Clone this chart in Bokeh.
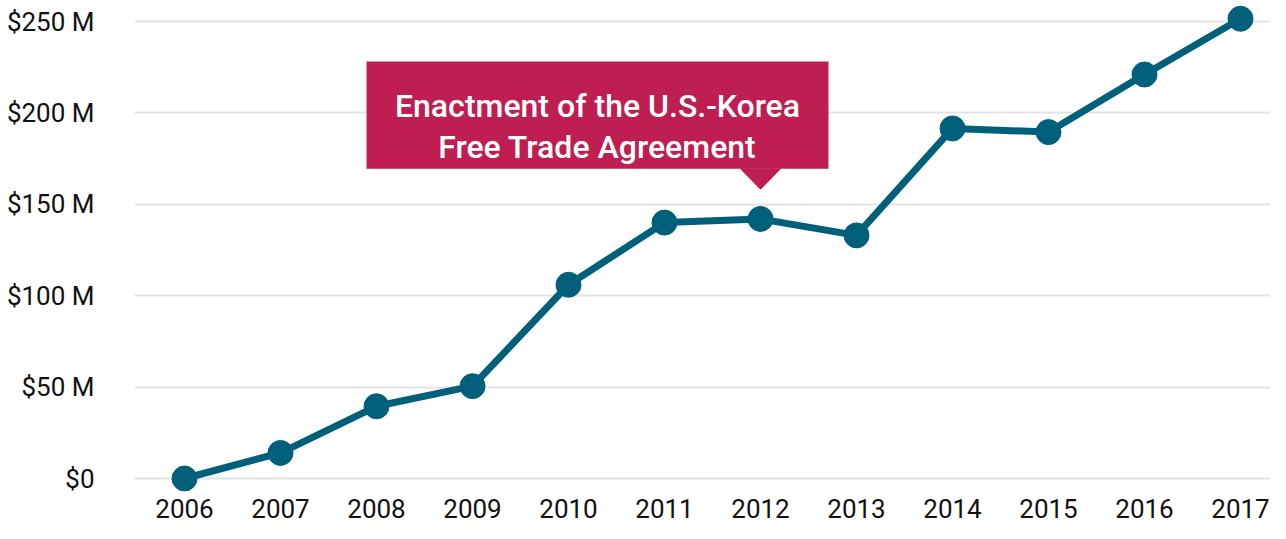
from bokeh.plotting import figure
from bokeh.models import FixedTicker, Range1d, BoxAnnotation, PolyAnnotation, Label
from bokeh.embed import file_html
from bokeh.resources import INLINE

# ---- data ----
years = [2006, 2007, 2008, 2009, 2010, 2011, 2012, 2013, 2014, 2015, 2016, 2017]
values_m = [0, 14, 39.5, 50.5, 106, 140, 142, 133, 191.5, 189.5, 221, 251.5]
y_ticks = [0, 50, 100, 150, 200, 250]
y_tick_labels = ["$0", "$50 M", "$100 M", "$150 M", "$200 M", "$250 M"]
event_year = 2012
event_lines = ["Enactment of the U.S.-Korea", "Free Trade Agreement"]

LINE = "#00607B"
BOX = "#BE1E52"

p = figure(width=1270, height=523, output_backend="svg", toolbar_location=None,
           x_range=Range1d(2005.479, 2017.3125), y_range=Range1d(-7.11, 261.49),
           min_border_left=134, min_border_right=0, min_border_top=0, min_border_bottom=32)
p.outline_line_color = None
p.background_fill_color = "white"
p.border_fill_color = "white"

p.xgrid.grid_line_color = None
p.ygrid.grid_line_color = "#e3e3e3"
p.ygrid.grid_line_width = 2

p.xaxis.ticker = FixedTicker(ticks=years)
p.xaxis.major_label_overrides = {y: str(y) for y in years}
p.yaxis.ticker = FixedTicker(ticks=y_ticks)
p.yaxis.major_label_overrides = {t: l for t, l in zip(y_ticks, y_tick_labels)}

for ax in (p.xaxis, p.yaxis):
    ax.axis_line_color = None
    ax.major_tick_line_color = None
    ax.minor_tick_line_color = None
    ax.major_label_text_font = "Roboto"
    ax.major_label_text_color = "#111111"
p.xaxis.major_label_text_font_size = "26px"
p.yaxis.major_label_text_font_size = "26px"
p.xaxis.major_label_standoff = 1
p.yaxis.major_label_standoff = 34

p.line(years, values_m, line_color=LINE, line_width=7)
p.scatter(years, values_m, size=25, fill_color=LINE, line_color=LINE)

# ---- callout annotation ----
box_left, box_right = event_year - 4.104, event_year + 0.708
box_bottom, box_top = 169.4, 228.1
tip_y = 157.9
half = 0.219
p.add_layout(BoxAnnotation(left=box_left, right=box_right, bottom=box_bottom, top=box_top,
                           fill_color=BOX, fill_alpha=1.0, line_color=None))
p.add_layout(PolyAnnotation(xs=[event_year - half, event_year + half, event_year],
                            ys=[box_bottom + 0.3, box_bottom + 0.3, tip_y],
                            fill_color=BOX, fill_alpha=1.0, line_color=None))
cx = (box_left + box_right) / 2
for txt, yy in zip(event_lines, [203.7, 181.2]):
    p.add_layout(Label(x=cx, y=yy, text=txt, text_align="center", text_baseline="alphabetic",
                       text_color="white", text_font="Roboto Medium",
                       text_font_size="32px"))

open("out.html", "w").write(file_html(p, INLINE))
